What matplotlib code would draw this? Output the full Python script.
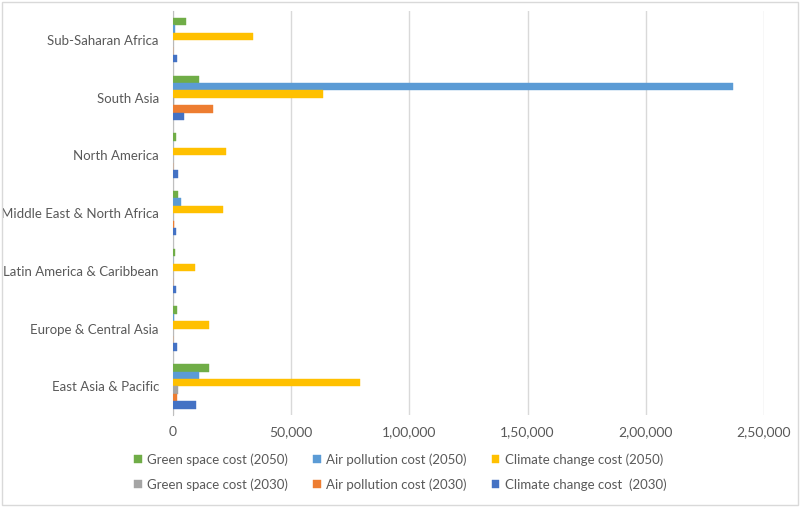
import matplotlib
matplotlib.use("Agg")
import matplotlib.pyplot as plt
import numpy as np
from matplotlib.ticker import FuncFormatter
from matplotlib.patches import Rectangle

regions = ["East Asia & Pacific", "Europe & Central Asia", "Latin America & Caribbean",
           "Middle East & North Africa", "North America", "South Asia", "Sub-Saharan Africa"]

green_2050 = [15300, 1800, 1100, 2400, 1500, 11100, 5500]
air_2050 = [11000, 300, 0, 3400, 0, 236700, 1000]
climate_2050 = [79200, 15500, 9400, 21100, 22500, 63400, 33800]
green_2030 = [2400, 0, 0, 0, 0, 500, 200]
air_2030 = [1700, 0, 0, 300, 0, 17200, 0]
climate_2030 = [9700, 1700, 1200, 1400, 2400, 4900, 1800]

series = [
    ("Green space cost (2050)", green_2050, "#70AD47"),
    ("Air pollution cost (2050)", air_2050, "#5B9BD5"),
    ("Climate change cost (2050)", climate_2050, "#FFC000"),
    ("Green space cost (2030)", green_2030, "#A5A5A5"),
    ("Air pollution cost (2030)", air_2030, "#ED7D31"),
    ("Climate change cost  (2030)", climate_2030, "#4472C4"),
]

xticks = [0, 50000, 100000, 150000, 200000, 250000]

def indian(v, pos=None):
    v = int(round(v))
    s = str(v)
    if len(s) <= 3:
        return s
    last3 = s[-3:]
    rest = s[:-3]
    parts = []
    while len(rest) > 2:
        parts.insert(0, rest[-2:])
        rest = rest[:-2]
    if rest:
        parts.insert(0, rest)
    return ",".join(parts) + "," + last3

plt.rcParams['font.family'] = ['Lato', 'DejaVu Sans']

fig = plt.figure(figsize=(8, 5.07), dpi=100)
ax = fig.add_axes([0.216, 0.181, 0.739, 0.797])

y = np.arange(len(regions))
bh = 0.128
handles = {}
for i, (name, vals, col) in enumerate(series):
    offs = (2.5 - i) * bh
    b = ax.barh(y + offs, vals, height=bh, color=col, edgecolor=col, linewidth=0.3, zorder=3, label=name)
    handles[name] = b

ax.set_ylim(-0.5, len(regions) - 0.5)
ax.set_xlim(0, 250000)
ax.set_xticks(xticks)
ax.xaxis.set_major_formatter(FuncFormatter(indian))
ax.set_yticks(y)
ax.set_yticklabels(regions)
ax.tick_params(axis='y', length=0, labelsize=9.5, colors="#595959", pad=10)
ax.tick_params(axis='x', length=0, labelsize=10, colors="#595959", pad=8)
ax.grid(axis='x', color="#D9D9D9", linewidth=1, zorder=0)
for s in ['top', 'right', 'bottom']:
    ax.spines[s].set_visible(False)
ax.spines['left'].set_color("#BFBFBF")

names = [s[0] for s in series]
order = [0, 3, 1, 4, 2, 5]
leg = fig.legend([handles[names[k]] for k in order], [names[k] for k in order],
                 ncol=3, loc='center', bbox_to_anchor=(0.5, 0.069), frameon=False,
                 fontsize=9.5, handlelength=0.6, handleheight=0.6, handletextpad=0.4,
                 columnspacing=1.9, labelspacing=0.95)
for t in leg.get_texts():
    t.set_color("#595959")

fig.patches.append(Rectangle((0.002, 0.003), 0.996, 0.994, transform=fig.transFigure,
                             fill=False, edgecolor="#D9D9D9", linewidth=1))

fig.savefig("out.png", dpi=100)
